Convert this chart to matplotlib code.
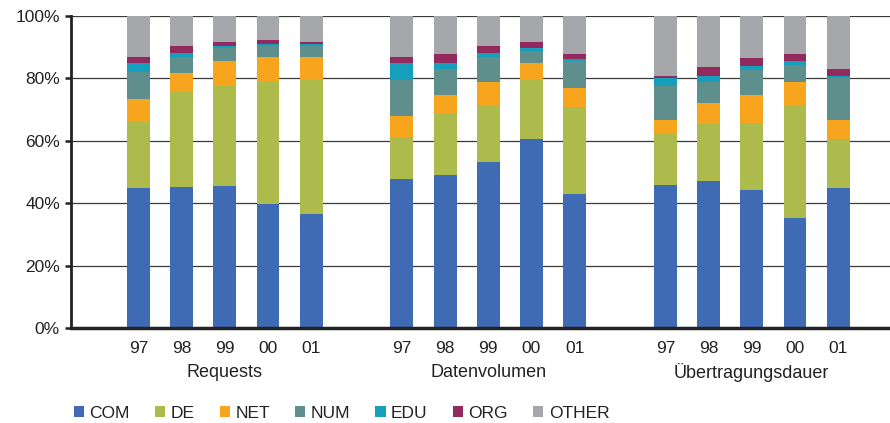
import matplotlib
matplotlib.use("Agg")
import matplotlib.pyplot as plt
import numpy as np
from matplotlib.patches import Patch

plt.rcParams['font.family'] = ['Liberation Sans', 'DejaVu Sans']

groups = ["Requests", "Datenvolumen", "Übertragungsdauer"]
years = ["97", "98", "99", "00", "01"]
series_names = ["COM", "DE", "NET", "NUM", "EDU", "ORG", "OTHER"]

# shares in percent, 5 years per group (Requests, Datenvolumen, Übertragungsdauer)
com = [45.0, 45.3, 45.6, 39.9, 36.4,
       47.9, 49.1, 53.3, 60.7, 43.1,
       45.9, 47.2, 44.3, 35.1, 45.0]
de = [21.1, 30.4, 32.0, 39.0, 43.1,
      13.4, 19.9, 18.2, 18.8, 27.8,
      16.7, 18.3, 21.5, 36.4, 15.7]
net = [7.2, 6.1, 7.9, 8.0, 7.4,
       6.7, 5.7, 7.4, 5.5, 6.1,
       4.1, 6.7, 8.9, 7.4, 6.0]
num = [8.8, 5.1, 4.3, 3.5, 3.5,
       11.5, 8.3, 8.0, 3.8, 8.6,
       10.9, 6.7, 8.0, 5.4, 13.5]
edu = [2.9, 1.3, 0.6, 0.6, 0.6,
       5.5, 2.0, 1.3, 1.0, 0.6,
       2.6, 1.9, 1.3, 1.3, 0.6]
org = [1.9, 2.2, 1.3, 1.3, 0.7,
       1.9, 2.8, 2.2, 1.9, 1.6,
       0.6, 2.9, 2.6, 2.2, 2.2]
other = [13.1, 9.6, 8.3, 7.7, 8.3,
         13.1, 12.2, 9.6, 8.3, 12.2,
         19.2, 16.3, 13.4, 12.2, 17.0]

colors = ["#3F6AB4", "#ADBA4C", "#F7A51D", "#5F8F8C", "#169FBD", "#922A5E", "#A6A7AB"]
series = [com, de, net, num, edu, org, other]

W, H = 890, 423
fig = plt.figure(figsize=(W / 100, H / 100), dpi=100)
ax = fig.add_axes([71 / W, 1 - 328 / H, (W - 71) / W, (328 - 16) / H])

group_offsets = [0.0, 6.1, 12.2]
x = np.concatenate([off + np.arange(len(years)) for off in group_offsets])

bottom = np.zeros(len(x))
for vals, col in zip(series, colors):
    v = np.array(vals)
    ax.bar(x, v, bottom=bottom, width=0.53, color=col, linewidth=0, zorder=2)
    bottom += v

ax.set_ylim(0, 100)
ax.set_xlim(-1.56, 17.4)
ax.set_yticks(np.arange(0, 101, 20))
ax.set_yticklabels([f"{t}%" for t in range(0, 101, 20)], fontsize=12.5, color="#222222")
ax.yaxis.grid(True, color="#3a3a3a", linewidth=0.9, zorder=0)
ax.set_axisbelow(True)

ax.set_xticks(x)
ax.set_xticklabels(years * len(groups), fontsize=12.5, color="#222222")
ax.tick_params(axis="x", length=0, pad=9)
ax.tick_params(axis="y", length=4, width=1.8, color="#222222", pad=4)

for s in ["top", "right"]:
    ax.spines[s].set_visible(False)
ax.spines["left"].set_linewidth(2.0)
ax.spines["left"].set_color("#222222")
ax.spines["bottom"].set_linewidth(2.5)
ax.spines["bottom"].set_color("#222222")

for off, name in zip(group_offsets, groups):
    ax.text(off + 2, -14.2, name, ha="center", va="center", fontsize=13,
            color="#222222", transform=ax.transData, clip_on=False)

handles = [Patch(facecolor=c, edgecolor="none") for c in colors]
fig.legend(handles, series_names, loc="center left", bbox_to_anchor=(58 / W, 1 - 413 / H),
           ncol=7, frameon=False, fontsize=12.5, handlelength=0.6, handleheight=0.6,
           handletextpad=0.3, columnspacing=1.45, labelcolor="#222222")

fig.savefig("out.png", dpi=100)
